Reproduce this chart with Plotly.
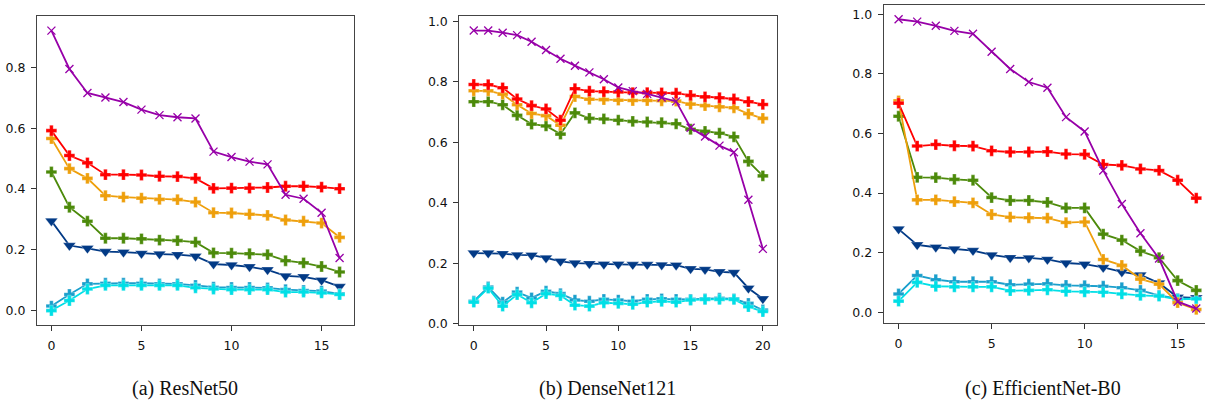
import plotly.graph_objects as go

# ---------------- data ----------------
x_a = list(range(17))
x_b = list(range(21))
x_c = list(range(17))

# (a) ResNet50
a_purple = [0.921, 0.795, 0.716, 0.701, 0.686, 0.661, 0.643, 0.636, 0.632, 0.523, 0.505, 0.490, 0.481, 0.381, 0.368, 0.322, 0.173]
a_red    = [0.592, 0.510, 0.486, 0.447, 0.447, 0.446, 0.442, 0.441, 0.435, 0.402, 0.403, 0.403, 0.405, 0.409, 0.409, 0.406, 0.401]
a_orange = [0.566, 0.467, 0.435, 0.378, 0.373, 0.370, 0.366, 0.365, 0.357, 0.322, 0.321, 0.317, 0.313, 0.298, 0.294, 0.288, 0.241]
a_green  = [0.456, 0.340, 0.294, 0.238, 0.238, 0.236, 0.232, 0.230, 0.225, 0.190, 0.189, 0.187, 0.184, 0.164, 0.157, 0.145, 0.127]
a_navy   = [0.295, 0.214, 0.205, 0.194, 0.192, 0.188, 0.186, 0.184, 0.179, 0.153, 0.150, 0.144, 0.134, 0.114, 0.111, 0.100, 0.079]
a_teal   = [0.015, 0.053, 0.088, 0.090, 0.090, 0.090, 0.088, 0.088, 0.083, 0.077, 0.076, 0.076, 0.075, 0.069, 0.066, 0.064, 0.055]
a_cyan   = [0.000, 0.033, 0.071, 0.083, 0.083, 0.083, 0.083, 0.083, 0.075, 0.071, 0.069, 0.069, 0.069, 0.061, 0.061, 0.058, 0.053]

# (b) DenseNet121
b_purple = [0.969, 0.969, 0.962, 0.954, 0.932, 0.905, 0.876, 0.853, 0.831, 0.808, 0.781, 0.769, 0.760, 0.748, 0.735, 0.648, 0.619, 0.589, 0.567, 0.410, 0.248]
b_red    = [0.791, 0.790, 0.780, 0.743, 0.721, 0.710, 0.673, 0.777, 0.769, 0.767, 0.766, 0.764, 0.764, 0.763, 0.762, 0.755, 0.750, 0.747, 0.743, 0.734, 0.725]
b_orange = [0.770, 0.770, 0.759, 0.724, 0.695, 0.688, 0.656, 0.751, 0.742, 0.741, 0.739, 0.738, 0.738, 0.737, 0.736, 0.726, 0.721, 0.717, 0.714, 0.694, 0.679]
b_green  = [0.734, 0.734, 0.724, 0.689, 0.660, 0.654, 0.627, 0.697, 0.679, 0.677, 0.673, 0.669, 0.667, 0.665, 0.661, 0.643, 0.636, 0.630, 0.618, 0.537, 0.489]
b_navy   = [0.234, 0.234, 0.232, 0.228, 0.227, 0.218, 0.207, 0.201, 0.199, 0.197, 0.197, 0.196, 0.196, 0.195, 0.194, 0.182, 0.180, 0.172, 0.170, 0.118, 0.083]
b_teal   = [0.075, 0.122, 0.072, 0.105, 0.086, 0.108, 0.100, 0.079, 0.075, 0.081, 0.079, 0.075, 0.081, 0.083, 0.081, 0.081, 0.083, 0.085, 0.083, 0.068, 0.046]
b_cyan   = [0.072, 0.118, 0.059, 0.097, 0.070, 0.100, 0.094, 0.062, 0.059, 0.070, 0.068, 0.065, 0.072, 0.075, 0.072, 0.079, 0.081, 0.081, 0.081, 0.057, 0.041]

# (c) EfficientNet-B0
c_purple = [0.984, 0.976, 0.962, 0.945, 0.935, 0.875, 0.817, 0.773, 0.754, 0.655, 0.607, 0.476, 0.363, 0.265, 0.180, 0.035, 0.012]
c_red    = [0.702, 0.558, 0.563, 0.559, 0.558, 0.542, 0.538, 0.538, 0.539, 0.531, 0.530, 0.496, 0.493, 0.481, 0.476, 0.443, 0.383]
c_orange = [0.710, 0.377, 0.377, 0.371, 0.367, 0.328, 0.319, 0.317, 0.316, 0.301, 0.303, 0.177, 0.157, 0.111, 0.094, 0.032, 0.009]
c_green  = [0.658, 0.453, 0.452, 0.446, 0.443, 0.385, 0.375, 0.375, 0.369, 0.350, 0.350, 0.262, 0.242, 0.205, 0.183, 0.106, 0.073]
c_navy   = [0.279, 0.226, 0.218, 0.212, 0.207, 0.192, 0.183, 0.182, 0.177, 0.165, 0.161, 0.150, 0.135, 0.125, 0.098, 0.050, 0.048]
c_teal   = [0.061, 0.123, 0.109, 0.102, 0.102, 0.102, 0.092, 0.094, 0.095, 0.090, 0.089, 0.087, 0.082, 0.073, 0.056, 0.045, 0.045]
c_cyan   = [0.037, 0.100, 0.087, 0.085, 0.085, 0.085, 0.072, 0.073, 0.075, 0.070, 0.068, 0.067, 0.061, 0.056, 0.054, 0.043, 0.045]

captions = ["(a) ResNet50", "(b) DenseNet121", "(c) EfficientNet-B0"]

# ---------------- styles ----------------
C_RED = "#ff0000"
C_ORANGE = "#ee9f0b"
C_GREEN = "#4c8a0a"
C_NAVY = "#023a86"
C_TEAL = "#1a9fcc"
C_CYAN = "#00dfe6"
C_PURPLE = "#9700a8"

panels = [
    (x_a, dict(navy=a_navy, teal=a_teal, cyan=a_cyan, green=a_green, orange=a_orange, red=a_red, purple=a_purple)),
    (x_b, dict(navy=b_navy, teal=b_teal, cyan=b_cyan, green=b_green, orange=b_orange, red=b_red, purple=b_purple)),
    (x_c, dict(navy=c_navy, teal=c_teal, cyan=c_cyan, green=c_green, orange=c_orange, red=c_red, purple=c_purple)),
]

style = {
    "navy":   (C_NAVY, "triangle-down", 11),
    "teal":   (C_TEAL, "cross", 9),
    "cyan":   (C_CYAN, "cross", 9),
    "green":  (C_GREEN, "cross", 9),
    "orange": (C_ORANGE, "cross", 9),
    "red":    (C_RED, "cross", 9),
    "purple": (C_PURPLE, "x-thin", 8),
}

fig = go.Figure()
for k, (xs, series) in enumerate(panels):
    xa = "x" if k == 0 else f"x{k+1}"
    ya = "y" if k == 0 else f"y{k+1}"
    for name, ys in series.items():
        col, sym, size = style[name]
        if sym == "x-thin":
            marker = dict(symbol=sym, size=size, color=col, line=dict(color=col, width=1.3))
        else:
            marker = dict(symbol=sym, size=size, color=col,
                          line=dict(color="rgba(255,255,255,0.35)", width=0.8))
        fig.add_trace(go.Scatter(x=xs, y=ys, xaxis=xa, yaxis=ya, mode="lines+markers",
                                 line=dict(color=col, width=1.8), marker=marker,
                                 showlegend=False, hoverinfo="skip"))

W, H = 1205, 409

def px_x(p):
    return p / W

def px_y(p):
    return 1 - p / H

xdoms = [(px_x(37), px_x(354)), (px_x(459.3), px_x(777.3)), (px_x(883.7), 1.0)]
ydoms = [(px_y(329), px_y(14)), (px_y(329.3), px_y(14.3)), (px_y(327.7), px_y(2.7))]
xranges = [[-0.8, 16.8], [-1.0, 21.0], [-0.8, 16.47]]
yranges = [[-0.046, 0.970], [-0.003, 1.017], [-0.0375, 1.033]]
xticks = [[0, 5, 10, 15], [0, 5, 10, 15, 20], [0, 5, 10, 15]]
yticks = [[0.0, 0.2, 0.4, 0.6, 0.8], [0.0, 0.2, 0.4, 0.6, 0.8, 1.0], [0.0, 0.2, 0.4, 0.6, 0.8, 1.0]]

tickfont = dict(family="DejaVu Sans", size=12.5, color="#111")
layout = dict(width=W, height=H, margin=dict(l=0, r=0, t=0, b=0),
              paper_bgcolor="white", plot_bgcolor="white")
for k in range(3):
    sx = "xaxis" if k == 0 else f"xaxis{k+1}"
    sy = "yaxis" if k == 0 else f"yaxis{k+1}"
    anchor_y = "y" if k == 0 else f"y{k+1}"
    anchor_x = "x" if k == 0 else f"x{k+1}"
    layout[sx] = dict(domain=list(xdoms[k]), anchor=anchor_y, range=xranges[k],
                      tickvals=xticks[k], ticks="outside", ticklen=5, tickcolor="#333",
                      ticklabelstandoff=4,
                      showline=True, linecolor="#444", linewidth=1, mirror=True,
                      showgrid=False, zeroline=False, tickfont=tickfont)
    layout[sy] = dict(domain=list(ydoms[k]), anchor=anchor_x, range=yranges[k],
                      tickvals=yticks[k], tickformat=".1f", ticks="outside", ticklen=5,
                      ticklabelstandoff=3,
                      tickcolor="#333", showline=True, linecolor="#444", linewidth=1,
                      mirror=(k != 2), showgrid=False, zeroline=False, tickfont=tickfont)

fig.update_layout(**layout)

cap_x = [185, 607, 1043]
for k in range(3):
    fig.add_annotation(text=captions[k], xref="paper", yref="paper", x=px_x(cap_x[k]), y=px_y(394),
                       showarrow=False, xanchor="center", yanchor="middle",
                       font=dict(family="Liberation Serif", size=20, color="#111"))

# place the figure flush with the window's top-left corner; no toolbar
fig.write_html("out.html", config={"displayModeBar": False},
               post_script="document.body.style.margin='0px';")
